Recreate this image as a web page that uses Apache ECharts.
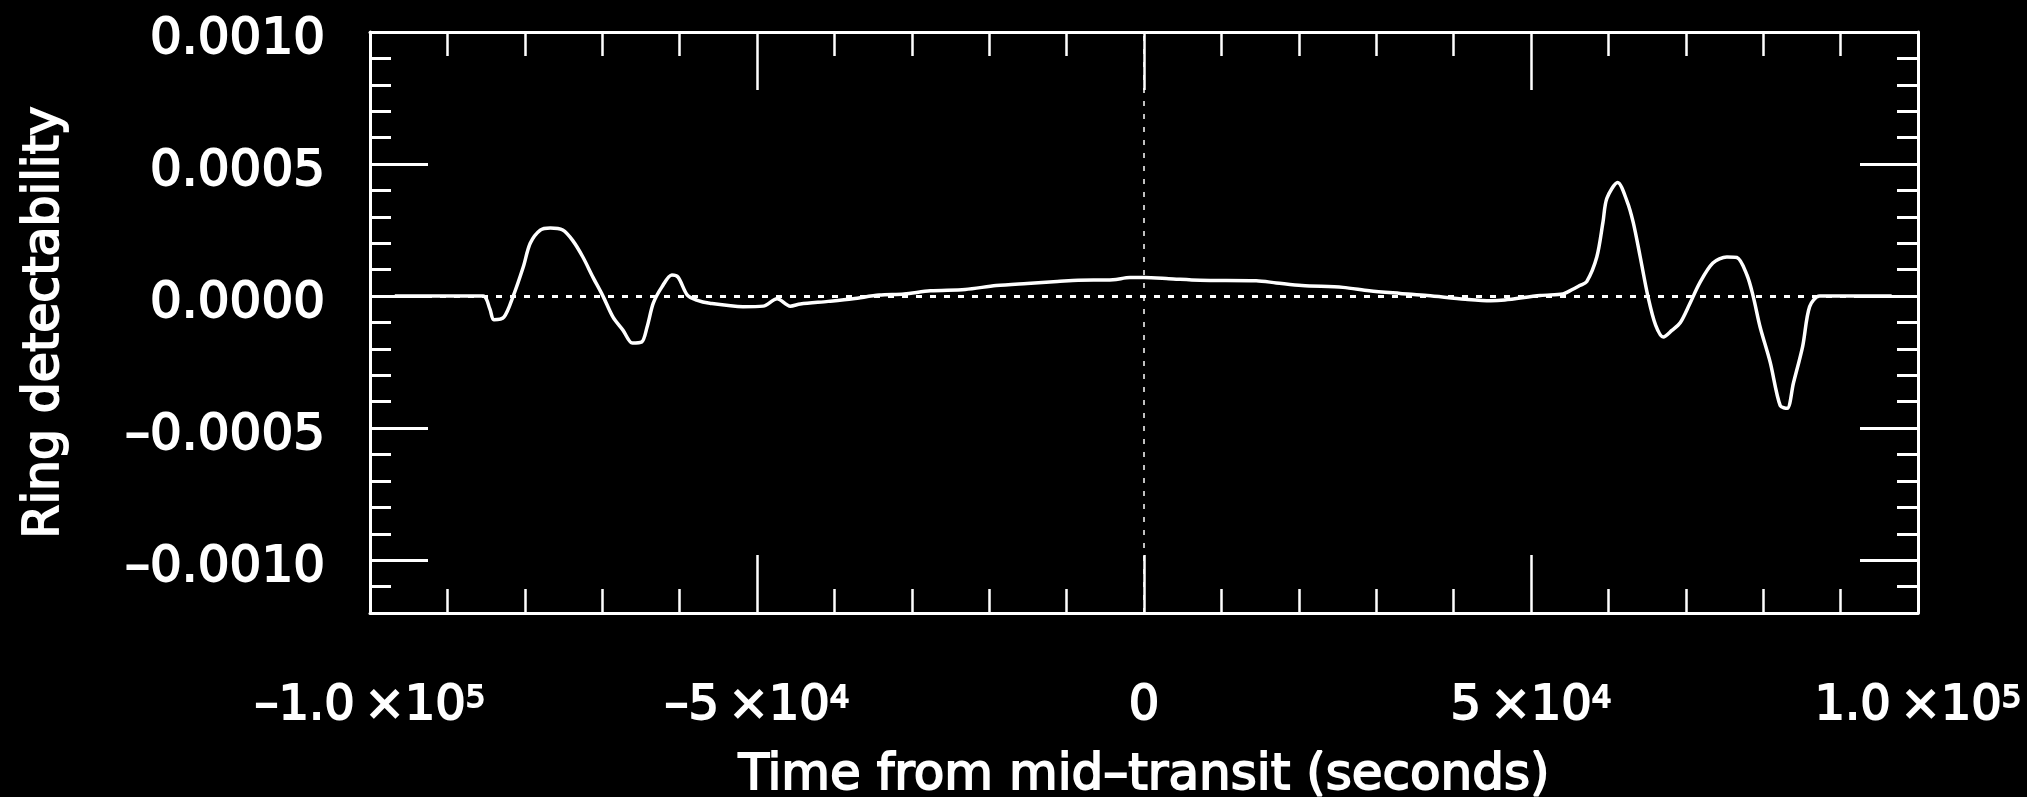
<!DOCTYPE html>
<html>
<head>
<meta charset="utf-8">
<script src="https://cdn.jsdelivr.net/npm/echarts@6/dist/echarts.min.js"></script>
<style>
  html, body { margin: 0; padding: 0; background: #000; }
  #chart { width: 2027px; height: 797px; }
</style>
</head>
<body>
<div id="chart"></div>
<script>
// Ring detectability signal versus time from mid-transit (s)
const timeSec = [
  -96800, -85400, -84500, -84000, -82700, -81500, -80200, -79300, -78000, -76700,
  -75100, -73800, -72500, -71200, -69900, -68600, -67300, -66100, -64900, -64200,
  -63400, -62300, -61000, -60200, -59000, -57800, -56100, -51800, -49200, -47400,
  -45700, -44400, -40800, -37600, -34200, -31000, -27600, -23100, -19100, -15100,
  -11200, -8500, -4000, -1800, 0, 3200, 7200, 14500, 17100, 20400,
  25700, 29100, 33100, 36600, 41500, 44800, 46600, 51200, 54100, 54700,
  56300, 57200, 58500, 59300, 59800, 61200, 62400, 63200, 64100, 65100,
  66100, 67100, 68200, 69300, 70500, 71800, 73500, 75300, 76600, 77900,
  78700, 79600, 80900, 82200, 83100, 83900, 85100, 86000, 87300, 96600
];
const detectability = [
  0, 0, -0.00005, -0.00009, -0.00008, 0, 0.00011, 0.0002, 0.00025, 0.000258,
  0.00025, 0.00021, 0.000148, 0.000072, 0, -0.00008, -0.00013, -0.000178, -0.000174, -0.000117,
  -0.000027, 0.000034, 0.00008, 0.000072, 0.000004, -0.000015, -0.000027, -0.00004, -0.000038, -0.00001,
  -0.000038, -0.00003, -0.00002, -0.00001, 0.000004, 0.000008, 0.00002, 0.000025, 0.00004, 0.000048,
  0.000055, 0.00006, 0.000062, 0.00007, 0.00007, 0.000066, 0.00006, 0.000058, 0.00005, 0.00004,
  0.000033, 0.00002, 0.00001, 0.000002, -0.000012, -0.000018, -0.000015, 0.000002, 0.000008, 0.000015,
  0.00004, 0.000055, 0.000148, 0.00028, 0.00037, 0.00043, 0.00036, 0.00028, 0.00015, 0,
  -0.00011, -0.000155, -0.00013, -0.0001, -0.00003, 0.00005, 0.000125, 0.000148, 0.000146, 0.00008,
  0, -0.000117, -0.00025, -0.000415, -0.000425, -0.00033, -0.00019, -0.00004, 0, 0
];

// Axis ranges and labelled ticks
const xRange = [-100000, 100000];
const yRange = [-0.0012, 0.0010];
const xTickValues = [-100000, -50000, 0, 50000, 100000];
const xTickMantissa = ['\u20131.0\u2009\u00d710', '\u20135\u2009\u00d710', '0', '5\u2009\u00d710', '1.0\u2009\u00d710'];
const xTickExponent = ['5', '4', '', '4', '5'];
const yTickValues = [-0.0010, -0.0005, 0, 0.0005, 0.0010];
const yTickLabels = ['\u20130.0010', '\u20130.0005', '0.0000', '0.0005', '0.0010'];
const xMinorStep = 10000;
const yMinorStep = 0.0001;

const xMinor = [];
for (let v = xRange[0]; v <= xRange[1] + 1; v += xMinorStep) xMinor.push(v);
const yMinor = [];
for (let i = 0; yRange[0] + i * yMinorStep <= yRange[1] + 1e-9; i++) {
  yMinor.push(+(yRange[0] + i * yMinorStep).toFixed(5));
}

const FONT = 'DejaVu Sans';
const WHITE = '#ffffff';
// a thin white outline gives the heavier stroke of the plot lettering
const HEAVY = { textBorderColor: WHITE, textBorderWidth: 1.8 };

function sameValue(a, b, eps) { return Math.abs(a - b) < eps; }

function xLabel(value) {
  const i = xTickValues.findIndex(v => sameValue(v, value, 1));
  if (i < 0) return '';
  return xTickExponent[i]
    ? '{m|' + xTickMantissa[i] + '}{s|' + xTickExponent[i] + '}'
    : '{m|' + xTickMantissa[i] + '}';
}
function yLabel(value) {
  const i = yTickValues.findIndex(v => sameValue(v, value, 1e-9));
  return i < 0 ? '' : '{v|' + yTickLabels[i] + '}';
}

function xAxisDef(position, major, showLabel, withName) {
  return {
    type: 'value', position: position, min: xRange[0], max: xRange[1],
    axisLine: { show: major, onZero: false, lineStyle: { color: WHITE, width: 3 } },
    axisTick: {
      show: true, inside: true, customValues: major ? xTickValues : xMinor,
      length: major ? 58 : 24, lineStyle: { color: WHITE, width: 2.5 }
    },
    axisLabel: showLabel ? {
      show: true, customValues: xTickValues, formatter: xLabel, margin: 70,
      color: WHITE, fontFamily: FONT, fontSize: 48,
      rich: {
        m: Object.assign({ fontFamily: FONT, fontSize: 48, color: WHITE, lineHeight: 48 }, HEAVY),
        s: Object.assign({ fontFamily: FONT, fontSize: 31, color: WHITE, lineHeight: 31, verticalAlign: 'top' }, HEAVY)
      }
    } : { show: false },
    splitLine: { show: false },
    name: withName ? 'Time from mid\u2013transit (seconds)' : '',
    nameLocation: 'middle', nameGap: 138,
    nameTextStyle: Object.assign({ color: WHITE, fontFamily: FONT, fontSize: 50 }, HEAVY)
  };
}
function yAxisDef(position, major, showLabel, withName) {
  return {
    type: 'value', position: position, min: yRange[0], max: yRange[1],
    axisLine: { show: major, onZero: false, lineStyle: { color: WHITE, width: 3 } },
    axisTick: {
      show: true, inside: true, customValues: major ? yTickValues : yMinor,
      length: major ? 58 : 21, lineStyle: { color: WHITE, width: 3 }
    },
    axisLabel: showLabel ? {
      show: true, customValues: yTickValues, formatter: yLabel, margin: 45,
      color: WHITE, fontFamily: FONT, fontSize: 50,
      rich: {
        v: Object.assign({ fontFamily: FONT, fontSize: 50, color: WHITE, padding: [16, 0, 0, 0] }, HEAVY)
      }
    } : { show: false },
    splitLine: { show: false },
    name: withName ? 'Ring detectability' : '',
    nameLocation: 'middle', nameGap: 300, nameRotate: 90,
    nameTextStyle: Object.assign({ color: WHITE, fontFamily: FONT, fontSize: 49 }, HEAVY)
  };
}

const chart = echarts.init(document.getElementById('chart'), null, { renderer: 'canvas' });
chart.setOption({
  backgroundColor: '#000000',
  animation: false,
  grid: { left: 370, right: 109, top: 32, bottom: 184, containLabel: false, outerBoundsMode: 'none' },
  xAxis: [
    xAxisDef('bottom', true, true, true),
    xAxisDef('bottom', false, false, false),
    xAxisDef('top', true, false, false),
    xAxisDef('top', false, false, false)
  ],
  yAxis: [
    yAxisDef('left', true, true, true),
    yAxisDef('left', false, false, false),
    yAxisDef('right', true, false, false),
    yAxisDef('right', false, false, false)
  ],
  series: [{
    type: 'line',
    xAxisIndex: 0, yAxisIndex: 0,
    data: timeSec.map((t, i) => [t, detectability[i]]),
    showSymbol: false,
    smooth: 0.3,
    lineStyle: { color: WHITE, width: 3.5 },
    z: 3,
    markLine: {
      silent: true, symbol: 'none', label: { show: false },
      data: [
        { yAxis: 0, lineStyle: { color: WHITE, width: 3, type: [6, 8] } },
        { xAxis: 0, lineStyle: { color: WHITE, width: 1.5, type: [5, 8] } }
      ]
    }
  }]
});
</script>
</body>
</html>
